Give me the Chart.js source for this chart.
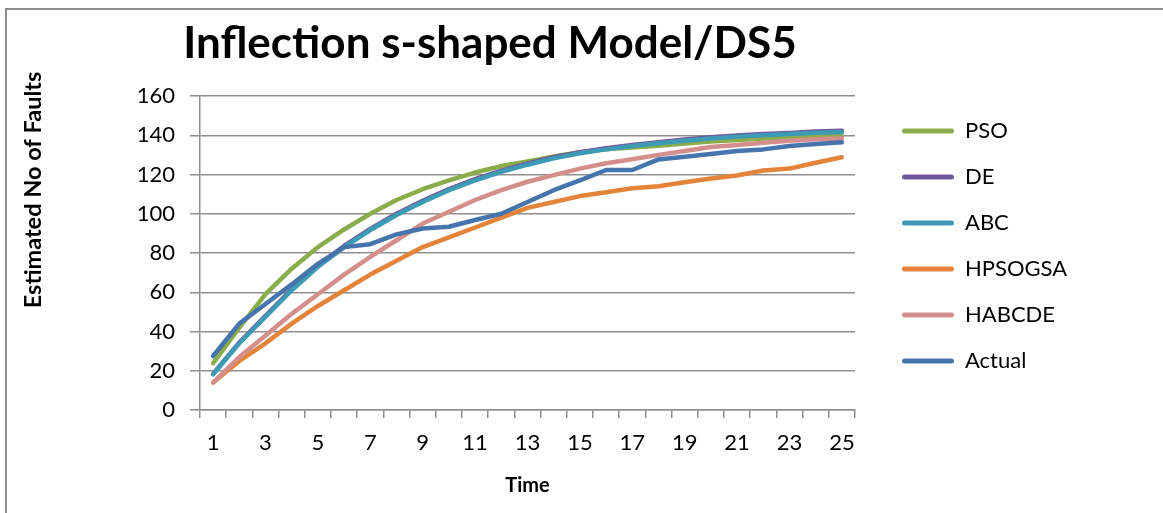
<!DOCTYPE html>
<html>
<head>
<meta charset="utf-8">
<title>Inflection s-shaped Model/DS5</title>
<script src="https://cdn.jsdelivr.net/npm/chart.js@4.4.1/dist/chart.umd.min.js"></script>
<style>
  html, body { margin: 0; padding: 0; background: #fff; }
  #marco { position: relative; width: 1163px; height: 513px; overflow: hidden; }
  #marco::before {
    content: ""; position: absolute; left: 5px; top: 8px; right: -10px; bottom: -10px;
    border-top: 2px solid #8e8e8e; border-left: 2px solid #8e8e8e; pointer-events: none;
  }
  canvas { display: block; }
</style>
</head>
<body>
<div id="marco"><canvas id="grafico" width="1163" height="513"></canvas></div>
<script>
const titulo = "Inflection s-shaped Model/DS5";
const tituloY = "Estimated No of Faults";
const tituloX = "Time";

const tiempo = ["1", "2", "3", "4", "5", "6", "7", "8", "9", "10", "11", "12", "13",
  "14", "15", "16", "17", "18", "19", "20", "21", "22", "23", "24", "25"];

const pso = [23.8, 42, 59, 72, 83, 92, 100, 107, 112.5, 117, 121, 124.3, 126.7, 129.2, 131.4,
  132.8, 133.7, 134.6, 135.8, 136.8, 137.6, 138.3, 139, 139.3, 139.6];
const de = [18.4, 34.4, 48, 61.5, 73.5, 83.6, 92.3, 100, 106.6, 112.6, 117.6, 122, 125.6, 128.8,
  131.4, 133.4, 135.1, 136.5, 137.8, 139, 139.9, 140.6, 141.2, 141.9, 142.3];
const abc = [18.2, 34, 47.5, 61, 73, 83, 91.7, 99.4, 106, 112, 117, 121.4, 125, 128.2, 130.8,
  132.8, 134.5, 135.9, 137.2, 138.4, 139.3, 140, 140.6, 141.3, 141.7];
const hpsogsa = [14, 25, 34, 44, 53, 61, 69, 76, 83, 88, 93, 98, 103, 106, 109, 111, 113, 114,
  116, 118, 119.5, 122, 123, 126, 128.8];
const habcde = [14, 27, 38, 49, 59, 69, 78, 86.5, 95, 101, 107, 112, 116.3, 119.7, 123, 125.7,
  127.8, 130, 132, 134, 135, 136.2, 137.2, 137.9, 138.4];
const actual = [27.5, 44, 54, 64, 74.5, 83, 84.5, 89.5, 92.5, 93.4, 96.8, 100, 106, 112, 117,
  122.3, 122.3, 127.7, 129, 130.4, 132, 132.8, 134.5, 135.5, 136.4];

const series = [
  { nombre: "PSO", datos: pso, color: "#8bac4b" },
  { nombre: "DE", datos: de, color: "#71589a" },
  { nombre: "ABC", datos: abc, color: "#3e9bb5" },
  { nombre: "HPSOGSA", datos: hpsogsa, color: "#e4843a" },
  { nombre: "HABCDE", datos: habcde, color: "#d48f8d" },
  { nombre: "Actual", datos: actual, color: "#4674ad" },
];

const bordeDerecho = 855;  // borde derecho del area de trazado
const huecoLeyenda = 23;   // separacion entre el grafico y la leyenda

Chart.defaults.font.family = "Lato";
Chart.defaults.color = "#000";

// titulo general y titulo del eje vertical
const rotulos = {
  id: "rotulos",
  afterDraw(chart) {
    const ctx = chart.ctx;
    ctx.save();
    ctx.fillStyle = "#000";
    ctx.textAlign = "center";
    ctx.textBaseline = "middle";
    ctx.font = "bold 44px Lato";
    ctx.fillText(titulo, 490, 44);
    ctx.translate(33, 190);
    ctx.rotate(-Math.PI / 2);
    ctx.font = "bold 23.5px Lato";
    ctx.fillText(tituloY, 0, 0);
    ctx.restore();
  },
};

// deja un hueco entre el area de trazado y la leyenda
const moverLeyenda = {
  id: "moverLeyenda",
  afterLayout(chart) {
    chart.legend.left += huecoLeyenda;
    chart.legend.right += huecoLeyenda;
  },
};

const datasets = series.map((s, i) => ({
  label: s.nombre,
  data: s.datos,
  borderColor: s.color,
  backgroundColor: s.color,
  borderWidth: 4.5,
  borderCapStyle: "round",
  borderJoinStyle: "round",
  pointRadius: 0,
  tension: 0,
  order: series.length - i,
}));

const grafico = new Chart(document.getElementById("grafico"), {
  type: "line",
  data: { labels: tiempo, datasets },
  plugins: [rotulos, moverLeyenda],
  options: {
    responsive: false,
    animation: false,
    devicePixelRatio: 1,
    layout: { padding: { top: 96, left: 0, bottom: 0, right: 100 } },
    plugins: {
      title: { display: false },
      tooltip: { enabled: false },
      legend: {
        position: "right",
        align: "start",
        fullSize: false,
        labels: {
          font: { size: 22 },
          boxWidth: 52,
          boxHeight: 5,
          padding: 24,
          useBorderRadius: true,
          borderRadius: 2.5,
          sort: (a, b) => a.datasetIndex - b.datasetIndex,
          generateLabels(chart) {
            const items = Chart.defaults.plugins.legend.labels.generateLabels(chart);
            return items.map((it) => ({ ...it, lineWidth: 0 }));
          },
        },
      },
    },
    scales: {
      x: {
        offset: true,
        grid: { offset: true, drawOnChartArea: false, tickLength: 8, color: "#8f8f8f", lineWidth: 1.5 },
        border: { color: "#8f8f8f", width: 1.5 },
        ticks: {
          autoSkip: false,
          maxRotation: 0,
          padding: 12,
          font: { size: 22 },
          callback: (val, i) => (i % 2 === 0 ? tiempo[i] : ""),
        },
        title: { display: true, text: tituloX, font: { size: 20, weight: "bold" }, padding: { top: 4, bottom: 15 } },
        afterFit: (s) => { s.height = 103; },
      },
      y: {
        min: 0,
        max: 160,
        ticks: { stepSize: 20, padding: 15, font: { size: 22 } },
        grid: { tickLength: 10, color: "#8f8f8f", lineWidth: 1.5 },
        border: { color: "#8f8f8f", width: 1.5 },
        afterFit: (s) => { s.width = 200; },
      },
    },
  },
});

// el ancho de la leyenda depende del texto: se ajusta el margen y se redibuja
grafico.options.layout.padding.right = grafico.width - bordeDerecho - grafico.legend.width;
grafico.update();
</script>
</body>
</html>
